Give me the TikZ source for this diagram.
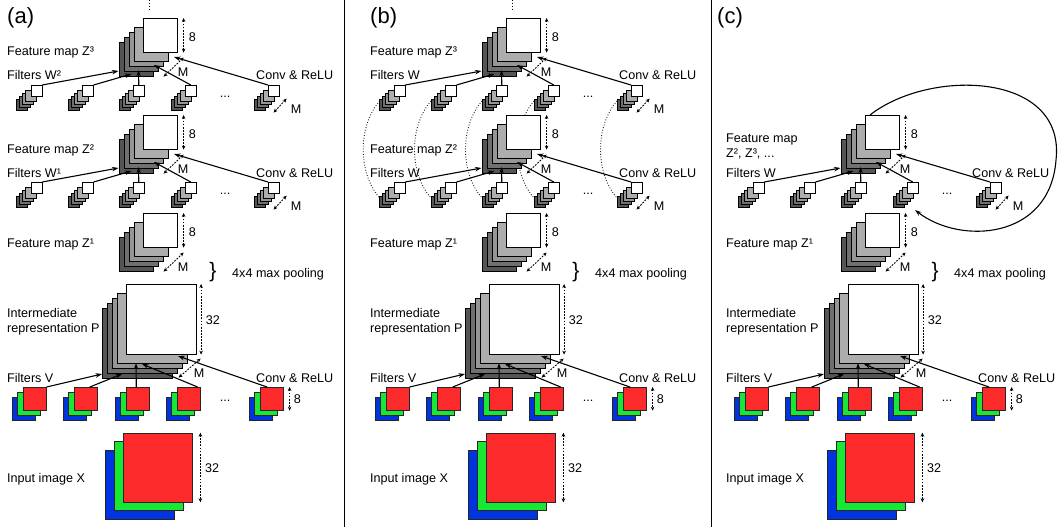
\documentclass[tikz,border=0pt]{standalone}
\usepackage{fontspec}
\setmainfont{Liberation Sans}
\usetikzlibrary{arrows.meta,calc}
\definecolor{layA}{HTML}{ADADAD}
\definecolor{layB}{HTML}{969696}
\definecolor{layC}{HTML}{707070}
\definecolor{layD}{HTML}{555555}
\definecolor{redF}{RGB}{252,42,42}
\definecolor{greenF}{RGB}{24,232,52}
\definecolor{blueF}{RGB}{0,52,222}
\tikzset{
  lbl/.style={anchor=base west,inner sep=0pt,font=\fontsize{12.6}{15}\selectfont},
  plbl/.style={anchor=base west,inner sep=0pt,font=\fontsize{22}{24}\selectfont},
  arr/.style={line width=1.1pt,-{Stealth[length=6.5pt,width=4.5pt]}},
  dimarr/.style={line width=0.9pt,dash pattern=on 1.8pt off 1.3pt,{Stealth[length=4pt,width=3.6pt]}-{Stealth[length=4pt,width=3.6pt]}},
  frontsq/.style={draw=black,fill=white,line width=0.6pt,inner sep=0pt,anchor=north west},
  sepline/.style={line width=0.9pt},
  arcdot/.style={line width=0.9pt,dash pattern=on 0.9pt off 1.8pt,black!85},
  bracelbl/.style={inner sep=0pt,font=\fontsize{21}{21}\selectfont}
}
% gray stack: name, x, y, size, offsets o1..o4
\newcommand\gstack[8]{%
  \foreach \oo/\cc in {#8/layD,#7/layC,#6/layB,#5/layA}{%
    \filldraw[fill=\cc,draw=black,line width=0.6pt] (#2-\oo,#3+\oo) rectangle ++(#4,#4);}
  \node[frontsq,minimum size=#4pt] (#1) at (#2,#3) {};
}
% rgb stack: name, x, y, size, offset
\newcommand\rgbstack[5]{%
  \filldraw[fill=blueF,draw=black!85,line width=0.6pt] (#2-2*#5,#3+2*#5) rectangle ++(#4,#4);
  \filldraw[fill=greenF,draw=black!85,line width=0.6pt] (#2-#5,#3+#5) rectangle ++(#4,#4);
  \node[frontsq,draw=black!85,fill=redF,minimum size=#4pt] (#1) at (#2,#3) {};
}
\newcommand\zrow[1]{%
  \gstack{#1z}{143}{18}{34}{9}{14}{19}{24}
  \draw[dimarr] ($(#1z.north east)+(6,0)$) -- ($(#1z.south east)+(6,0)$);
  \node[lbl] at ($(#1z.east)+(11,6)$) {8};
  \draw[dimarr] ($(#1z.south east)+(-14,24)$) -- ($(#1z.south east)+(6,5)$);
  \node[lbl] at ($(#1z.south east)+(0,24)$) {M};
  \gstack{#1f1}{30.7}{85}{11}{5}{8}{11}{14}
  \gstack{#1f2}{82}{85}{11}{5}{8}{11}{14}
  \gstack{#1f3}{133}{85}{11}{5}{8}{11}{14}
  \gstack{#1f4}{185}{85}{11}{5}{8}{11}{14}
  \gstack{#1f5}{268}{85}{11}{5}{8}{11}{14}
  \node[lbl,anchor=base] (#1dots) at (225,97) {...};
  \draw[dimarr] ($(#1f5.south east)+(-6,16)$) -- ($(#1f5.south east)+(7,2)$);
  \node[lbl] at ($(#1f5.south east)+(11,17)$) {M};
  \coordinate (#1t1) at (118.5,71);
  \coordinate (#1t2) at (131.5,74);
  \coordinate (#1t3) at (138.5,70);
  \coordinate (#1t4) at (154,65);
  \coordinate (#1t5) at (174,57);
  \draw[arr] (#1f1.north east) -- (#1t1);
  \draw[arr] (#1f2.north east) -- (#1t2);
  \draw[arr] (#1f3.north) -- (#1t3);
  \draw[arr] (#1f4.north) -- (#1t4);
  \draw[arr] (#1f5.north west) -- (#1t5);
}
\newcommand\lowpart[1]{%
  % feature map Z1
  \gstack{#1zone}{143}{213}{34}{9}{14}{19}{24}
  \draw[dimarr] ($(#1zone.north east)+(6,0)$) -- ($(#1zone.south east)+(6,0)$);
  \node[lbl] at ($(#1zone.east)+(11,6)$) {8};
  \draw[dimarr] ($(#1zone.south east)+(-14,24)$) -- ($(#1zone.south east)+(6,5)$);
  \node[lbl] at ($(#1zone.south east)+(0,24)$) {M};
  % pooling
  \node[bracelbl] (#1brace) at (213,272) {\}};
  \node[lbl] (#1pool) at (232,277) {4x4 max pooling};
  % intermediate P
  \gstack{#1p}{126}{284}{70}{9}{14}{19}{24}
  \draw[dimarr] ($(#1p.north east)+(4.5,0)$) -- ($(#1p.south east)+(4.5,0)$);
  \node[lbl] at ($(#1p.east)+(9,5)$) {32};
  \draw[dimarr] ($(#1p.south east)+(-18,23)$) -- ($(#1p.south east)+(4,4)$);
  \node[lbl] at ($(#1p.south east)+(-3,23)$) {M};
  % rgb filters
  \rgbstack{#1r1}{23}{387}{23}{5.3}
  \rgbstack{#1r2}{74}{387}{23}{5.3}
  \rgbstack{#1r3}{126}{387}{23}{5.3}
  \rgbstack{#1r4}{177}{387}{23}{5.3}
  \rgbstack{#1r5}{260}{387}{23}{5.3}
  \node[lbl,anchor=base] (#1rdots) at (225,401) {...};
  \draw[dimarr] ($(#1r5.north east)+(6,0)$) -- ($(#1r5.south east)+(6,0)$);
  \node[lbl] at ($(#1r5.east)+(10,5)$) {8};
  \coordinate (#1u1) at (102,374);
  \coordinate (#1u2) at (122,374);
  \coordinate (#1u3) at (136,363);
  \coordinate (#1u4) at (142,364);
  \coordinate (#1u5) at (178,356);
  \draw[arr] (#1r1.north east) -- (#1u1);
  \draw[arr] ($(#1r2.north)+(4,0)$) -- (#1u2);
  \draw[arr] ($(#1r3.north)+(-1.5,0)$) -- (#1u3);
  \draw[arr] ($(#1r4.north east)+(-3,0)$) -- (#1u4);
  \draw[arr] ($(#1r5.north west)+(7,0)$) -- (#1u5);
  % input image
  \rgbstack{#1x}{123.3}{432.7}{69}{9}
  \draw[dimarr] ($(#1x.north east)+(7.5,0)$) -- ($(#1x.south east)+(7.5,0)$);
  \node[lbl] at ($(#1x.east)+(12,5)$) {32};
}
\begin{document}
\begin{tikzpicture}[x=1pt,y=-1pt]
\useasboundingbox (0,0) rectangle (1058,527);
\fill[white] (0,0) rectangle (1058,527);
\draw[sepline] (344.5,0) -- (344.5,527);
\draw[sepline] (711.5,0) -- (711.5,527);

% ---------------- panel (a)
\begin{scope}
  \zrow{aa}
  \begin{scope}[shift={(0,97)}]\zrow{ab}\end{scope}
  \lowpart{a}
  \draw[dotted,line width=0.9pt] ($(aaz.north west)+(6,-18)$) -- ($(aaz.north west)+(6,-8)$);
  \node[plbl] at (7,24) {(a)};
  \node[lbl] at (7,56) {Feature map Z³};
  \node[lbl] at (7,80) {Filters W²};
  \node[lbl] at (256,80) {Conv \& ReLU};
  \node[lbl] at (7,153) {Feature map Z²};
  \node[lbl] at (7,177) {Filters W¹};
  \node[lbl] at (256,177) {Conv \& ReLU};
  \node[lbl] at (7,247) {Feature map Z¹};
  \node[lbl] at (7,317) {Intermediate};
  \node[lbl] at (7,332) {representation P};
  \node[lbl] at (7,382) {Filters V};
  \node[lbl] at (256,382) {Conv \& ReLU};
  \node[lbl] at (7,482) {Input image X};
\end{scope}

% ---------------- panel (b)
\begin{scope}[xshift=363pt]
  \foreach \xx in {30.7,82,133,185,268}{%
    \draw[arcdot] (\xx-14,101) .. controls (\xx-36,126) and (\xx-36,173) .. (\xx-14,198);}
  \zrow{ba}
  \begin{scope}[shift={(0,97)}]\zrow{bb}\end{scope}
  \lowpart{b}
  \draw[dotted,line width=0.9pt] ($(baz.north west)+(6,-18)$) -- ($(baz.north west)+(6,-8)$);
  \node[plbl] at (7,24) {(b)};
  \node[lbl] at (7,56) {Feature map Z³};
  \node[lbl] at (7,80) {Filters W};
  \node[lbl] at (256,80) {Conv \& ReLU};
  \node[lbl] at (7,153) {Feature map Z²};
  \node[lbl] at (7,177) {Filters W};
  \node[lbl] at (256,177) {Conv \& ReLU};
  \node[lbl] at (7,247) {Feature map Z¹};
  \node[lbl] at (7,317) {Intermediate};
  \node[lbl] at (7,332) {representation P};
  \node[lbl] at (7,382) {Filters V};
  \node[lbl] at (256,382) {Conv \& ReLU};
  \node[lbl] at (7,482) {Input image X};
\end{scope}

% ---------------- panel (c)
\begin{scope}[xshift=722pt]
  \begin{scope}[shift={(0,97)}]\zrow{cb}\end{scope}
  \lowpart{c}
  \coordinate (cloopend) at (193,210);
  \draw[arr] ($(cbz.north west)+(5,0)$) .. controls (208,68) and (344,72) .. (334,160)
     .. controls (328,240) and (238,245) .. (cloopend);
  \node[plbl] at (-5,24) {(c)};
  \node[lbl] at (4,142) {Feature map};
  \node[lbl] at (4,157) {Z², Z³, ...};
  \node[lbl] at (4,177) {Filters W};
  \node[lbl] at (250,177) {Conv \& ReLU};
  \node[lbl] at (4,247) {Feature map Z¹};
  \node[lbl] at (4,317) {Intermediate};
  \node[lbl] at (4,332) {representation P};
  \node[lbl] at (4,382) {Filters V};
  \node[lbl] at (256,382) {Conv \& ReLU};
  \node[lbl] at (4,482) {Input image X};
\end{scope}
\end{tikzpicture}
\end{document}
